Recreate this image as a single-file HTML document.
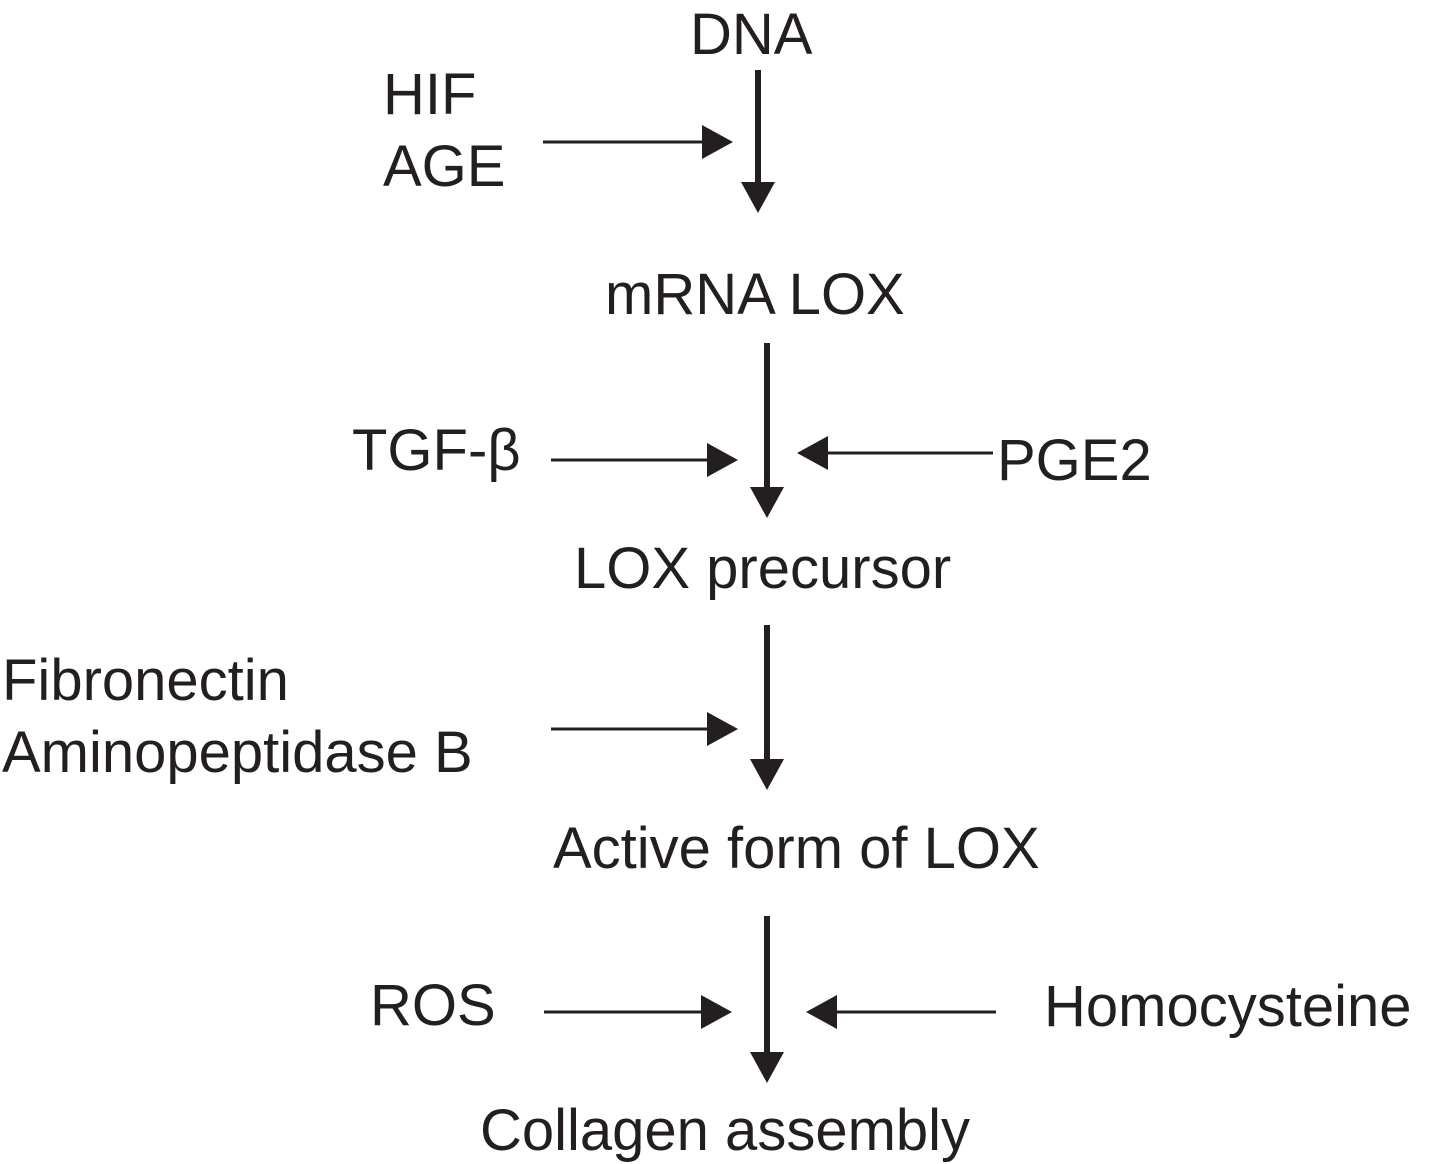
<!DOCTYPE html>
<html><head><style>html,body{margin:0;padding:0;background:#fff}svg{display:block}</style></head>
<body>
<svg width="1439" height="1164" viewBox="0 0 1439 1164" xmlns="http://www.w3.org/2000/svg" font-family="Liberation Sans, Arial, sans-serif" font-size="58" fill="#231f20">
<g stroke="#231f20" stroke-width="6">
<line x1="758" y1="70" x2="758" y2="185"/>
<line x1="767" y1="343" x2="767" y2="490"/>
<line x1="767" y1="625" x2="767" y2="762"/>
<line x1="767" y1="916" x2="767" y2="1055"/>
</g>
<g stroke="#231f20" stroke-width="3">
<line x1="543" y1="142" x2="705" y2="142"/>
<line x1="551" y1="460" x2="710" y2="460"/>
<line x1="993" y1="453" x2="825" y2="453"/>
<line x1="551" y1="729" x2="710" y2="729"/>
<line x1="544" y1="1012" x2="704" y2="1012"/>
<line x1="996" y1="1012" x2="834" y2="1012"/>
</g>
<g fill="#231f20">
<polygon points="741,182 775,182 758,213"/>
<polygon points="750,487 784,487 767,518"/>
<polygon points="750,759 784,759 767,790"/>
<polygon points="750,1052 784,1052 767,1083"/>
<polygon points="702,125 702,159 733,142"/>
<polygon points="707,443 707,477 738,460"/>
<polygon points="828,436 828,470 797,453"/>
<polygon points="707,712 707,746 738,729"/>
<polygon points="701,995 701,1029 732,1012"/>
<polygon points="837,995 837,1029 806,1012"/>
</g>
<text x="690" y="54">DNA</text>
<text x="383" y="114">HIF</text>
<text x="383" y="186">AGE</text>
<text x="605" y="314">mRNA LOX</text>
<text x="352" y="470">TGF-β</text>
<text x="997" y="480">PGE2</text>
<text x="574" y="588">LOX precursor</text>
<text x="2" y="700">Fibronectin</text>
<text x="2" y="772">Aminopeptidase B</text>
<text x="553" y="868">Active form of LOX</text>
<text x="370" y="1025">ROS</text>
<text x="1044" y="1026">Homocysteine</text>
<text x="480" y="1150">Collagen assembly</text>
</svg>
</body></html>
